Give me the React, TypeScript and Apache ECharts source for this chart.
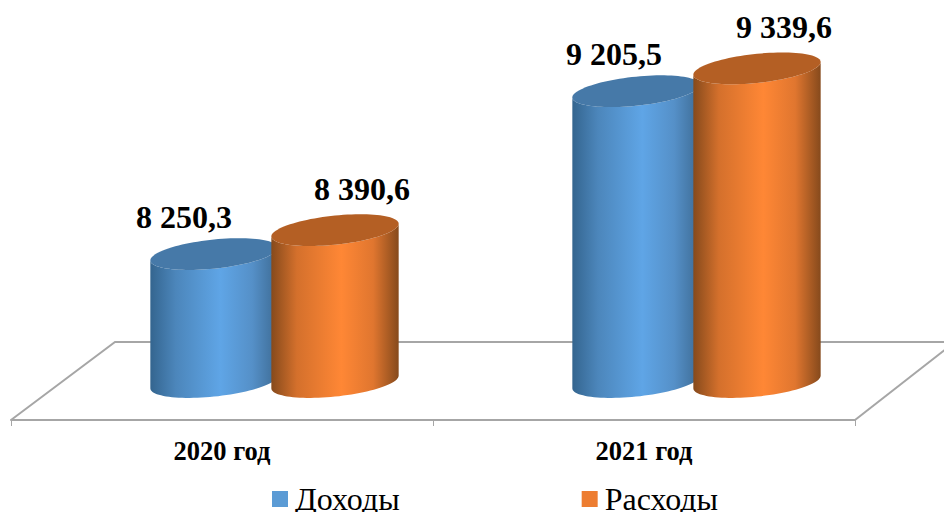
import React, { useEffect, useRef } from "react";
import * as echarts from "echarts";

const categories = ["2020 год", "2021 год"];
const incomeName = "Доходы";
const expenseName = "Расходы";
const incomeValues = [8250.3, 9205.5];
const expenseValues = [8390.6, 9339.6];
const incomeLabels = ["8 250,3", "9 205,5"];
const expenseLabels = ["8 390,6", "9 339,6"];

const FONT = '"Liberation Serif", "Times New Roman", serif';
const RX = 64, RY = 14.5;
const TILT = (-6 * Math.PI) / 180;
const T0 = Math.atan2(-RY * Math.sin(TILT), RX * Math.cos(TILT));

// Half of the tilted ellipse outline that runs from its right-most point,
// under the ellipse, to its left-most point.
function lowerHalf(cx: number, cy: number): number[][] {
  const pts: number[][] = [];
  const n = 48;
  for (let k = 0; k <= n; k++) {
    const t = T0 + (Math.PI * k) / n;
    const ex = RX * Math.cos(t);
    const ey = RY * Math.sin(t);
    pts.push([
      cx + ex * Math.cos(TILT) - ey * Math.sin(TILT),
      cy + ex * Math.sin(TILT) + ey * Math.cos(TILT),
    ]);
  }
  return pts;
}

function ellipseOutline(cx: number, cy: number): number[][] {
  const low = lowerHalf(cx, cy);
  const high = low.map(([x, y]) => [2 * cx - x, 2 * cy - y]);
  return low.concat(high);
}

function cylinder(cfg: {
  dx: number; labels: string[]; labelDx: number[]; labelDy: number;
  stops: [number, string][]; top: string;
}) {
  return (params: any, api: any) => {
    const i = api.value(0);
    const p = api.coord([i, api.value(1)]);
    const b = api.coord([i, 7500]);
    const cx = p[0] + cfg.dx;
    const yt = p[1];
    const yb = b[1];
    const bottom = lowerHalf(cx, yb);
    const topLow = lowerHalf(cx, yt).slice().reverse();
    return {
      type: "group",
      children: [
        {
          type: "polygon",
          shape: { points: bottom.concat(topLow) },
          style: {
            fill: new echarts.graphic.LinearGradient(
              0, 0, 1, 0,
              cfg.stops.map(([offset, color]) => ({ offset, color }))
            ),
          },
        },
        {
          type: "polygon",
          shape: { points: ellipseOutline(cx, yt) },
          style: { fill: cfg.top },
        },
        {
          type: "text",
          x: cx + cfg.labelDx[params.dataIndex],
          y: yt + cfg.labelDy,
          style: {
            text: cfg.labels[params.dataIndex],
            fill: "#000",
            font: `bold 32px ${FONT}`,
            align: "center",
            verticalAlign: "middle",
          },
        },
      ],
    };
  };
}

export default function App() {
  const ref = useRef<HTMLDivElement>(null);
  useEffect(() => {
    document.body.style.margin = "0";
    document.body.style.overflow = "hidden";
    const chart = echarts.init(ref.current!, null, { renderer: "svg" });
    chart.setOption({
      animation: false,
      backgroundColor: "#fff",
      grid: { left: 11, width: 844, top: 41, height: 341 },
      xAxis: {
        type: "category",
        data: categories,
        offset: 38,
        axisLine: { lineStyle: { color: "#a6a6a6", width: 2 } },
        axisTick: { show: true, length: 6, lineStyle: { color: "#a6a6a6", width: 1 } },
        axisLabel: {
          color: "#000",
          fontFamily: FONT,
          fontWeight: "bold",
          fontSize: 26.5,
          margin: 17,
        },
      },
      yAxis: { type: "value", min: 7500, max: 9500, show: false, splitLine: { show: false } },
      legend: {
        left: 272,
        top: 483,
        padding: 0,
        itemWidth: 16,
        itemHeight: 16,
        itemGap: 182,
        icon: "rect",
        data: [incomeName, expenseName],
        selectedMode: false,
        textStyle: { color: "#000", fontFamily: FONT, fontSize: 32, lineHeight: 32, padding: [0, 0, 0, 2] },
      },
      graphic: [
        {
          type: "polyline",
          z: 0,
          silent: true,
          shape: { points: [[11, 420], [115, 342], [944, 342]] },
          style: { stroke: "#a6a6a6", lineWidth: 2, fill: "none" },
        },
        {
          type: "line",
          z: 0,
          silent: true,
          shape: { x1: 855, y1: 420, x2: 946, y2: 349 },
          style: { stroke: "#a6a6a6", lineWidth: 2 },
        },
      ],
      series: [
        {
          name: incomeName,
          type: "custom",
          z: 3,
          itemStyle: { color: "#5b9bd5" },
          encode: { x: 0, y: 1 },
          data: incomeValues.map((v, i) => [i, v]),
          renderItem: cylinder({
            dx: -8,
            labels: incomeLabels,
            labelDx: [-30, -22],
            labelDy: -37,
            stops: [[0, "#34658f"], [0.2, "#4c86bb"], [0.55, "#5fa5e6"], [0.8, "#5590c8"], [1, "#3d6b94"]],
            top: "#4679a8",
          }),
        },
        {
          name: expenseName,
          type: "custom",
          z: 4,
          itemStyle: { color: "#ed7d31" },
          encode: { x: 0, y: 1 },
          data: expenseValues.map((v, i) => [i, v]),
          renderItem: cylinder({
            dx: 113,
            labels: expenseLabels,
            labelDx: [27, 27],
            labelDy: -41,
            stops: [[0, "#864a1c"], [0.2, "#d4702c"], [0.55, "#ff8735"], [0.8, "#e0762f"], [1, "#864a1c"]],
            top: "#b45f24",
          }),
        },
      ],
    });
    return () => chart.dispose();
  }, []);
  return <div ref={ref} style={{ position: "absolute", left: 0, top: 0, width: 944, height: 512 }} />;
}
